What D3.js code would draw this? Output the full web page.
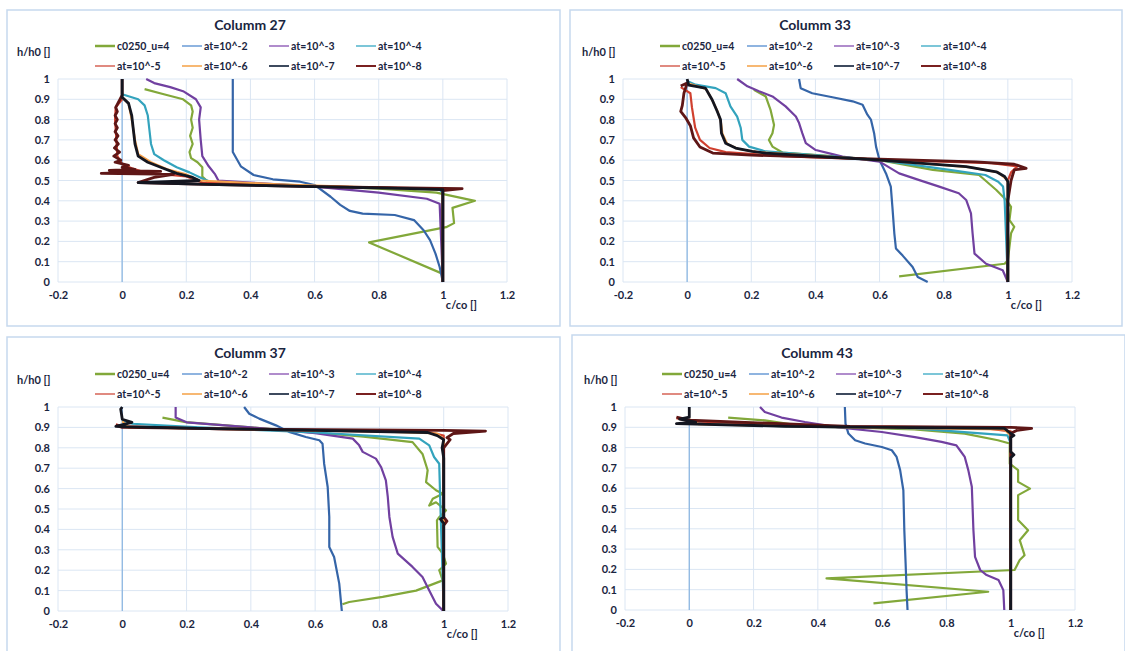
<!DOCTYPE html>
<meta charset="utf-8">
<style>
  body { margin: 0; background: #fff; }
  text { font-family: Lato, "Open Sans", sans-serif; fill: #1a2540; }
  .tick text { font-size: 11px; font-weight: bold; }
  .title { font-size: 14px; font-weight: bold; }
  .leg { font-size: 10.5px; font-weight: bold; }
  .lab { font-size: 11px; font-weight: bold; }
</style>
<body>
<script src="https://d3js.org/d3.v7.min.js"></script>
<script>
// series names and colours
var seriesNames = ["c0250_u=4", "at=10^-2", "at=10^-3", "at=10^-4", "at=10^-5", "at=10^-6", "at=10^-7", "at=10^-8"];
var seriesColors = ["#82a83a", "#3565a8", "#7140a0", "#33a3bd", "#d0402f", "#f5a04a", "#141620", "#5e1616"];
var legendColors = ["#82a83a", "#8fb4e0", "#b08ccc", "#7cc6d8", "#e08a80", "#f7b873", "#3d4a5e", "#7a2020"];

var xTicks = [-0.2, 0, 0.2, 0.4, 0.6, 0.8, 1, 1.2];
var xTickLabels = ["-0.2", "0", "0.2", "0.4", "0.6", "0.8", "1", "1.2"];
var yTicks = [0, 0.1, 0.2, 0.3, 0.4, 0.5, 0.6, 0.7, 0.8, 0.9, 1];
var yTickLabels = ["0", "0.1", "0.2", "0.3", "0.4", "0.5", "0.6", "0.7", "0.8", "0.9", "1"];

var titles = ["Columm 27", "Columm 33", "Columm 37", "Columm 43"];

// points are [c/c0, h/h0]
// Column 27
var c27_u4 = [[0.07,0.95],[0.13,0.925],[0.19,0.9],[0.215,0.87],[0.22,0.84],[0.215,0.8],[0.22,0.76],[0.212,0.72],[0.22,0.68],[0.21,0.64],[0.215,0.61],[0.235,0.59],[0.25,0.565],[0.25,0.52],[0.27,0.49],[0.5,0.48],[0.8,0.46],[0.98,0.44],[1.1,0.4],[1.03,0.365],[1.035,0.29],[1.01,0.27],[0.77,0.195],[1.0,0.04]];
var c27_a2 = [[0.345,1.0],[0.345,0.64],[0.37,0.57],[0.41,0.527],[0.47,0.506],[0.555,0.494],[0.6,0.478],[0.65,0.42],[0.68,0.38],[0.71,0.35],[0.75,0.337],[0.85,0.33],[0.91,0.305],[0.94,0.255],[0.96,0.206],[0.977,0.14],[0.99,0.074],[1.0,0.0]];
var c27_a3 = [[0.075,1.0],[0.1,0.98],[0.15,0.96],[0.19,0.94],[0.23,0.9],[0.245,0.86],[0.24,0.8],[0.245,0.7],[0.25,0.62],[0.27,0.57],[0.29,0.53],[0.3,0.5],[0.4,0.49],[0.6,0.47],[0.8,0.44],[0.95,0.41],[0.99,0.385],[1.0,0.0]];
var c27_a4 = [[0.0,0.925],[0.05,0.9],[0.07,0.87],[0.08,0.82],[0.085,0.75],[0.09,0.68],[0.1,0.63],[0.13,0.6],[0.17,0.565],[0.21,0.54],[0.25,0.51],[0.28,0.49],[0.5,0.475],[0.8,0.465],[0.99,0.455],[1.0,0.44],[1.0,0.0]];
var c27_a5 = [[0.0,0.9],[-0.02,0.86],[-0.022,0.8],[-0.018,0.7],[-0.015,0.62],[0.0,0.58],[0.03,0.56],[0.06,0.545],[0.1,0.535],[0.2,0.52],[0.25,0.49],[0.5,0.475],[0.8,0.465],[1.0,0.46],[1.0,0.0]];
var c27_a6 = [[0.0,0.91],[0.02,0.88],[0.03,0.8],[0.04,0.7],[0.05,0.63],[0.09,0.59],[0.14,0.555],[0.2,0.53],[0.24,0.5],[0.5,0.48],[0.8,0.465],[1.0,0.455],[1.0,0.0]];
var c27_a7 = [[0.0,1.0],[0.0,0.91],[0.02,0.88],[0.03,0.82],[0.035,0.75],[0.04,0.68],[0.05,0.62],[0.08,0.59],[0.12,0.565],[0.17,0.535],[0.22,0.515],[0.24,0.5],[0.05,0.49],[0.3,0.48],[0.6,0.47],[0.9,0.46],[1.0,0.455],[1.0,0.0]];
var c27_a8 = [[0.0,1.0],[0.0,0.92],[-0.02,0.86],[-0.015,0.84],[-0.022,0.82],[-0.015,0.8],[-0.022,0.78],[-0.015,0.76],[-0.022,0.74],[-0.013,0.72],[-0.022,0.7],[-0.012,0.68],[-0.024,0.66],[-0.008,0.64],[-0.026,0.62],[-0.004,0.6],[-0.022,0.59],[0.02,0.575],[0.0,0.565],[0.04,0.555],[-0.04,0.55],[0.12,0.545],[-0.065,0.535],[0.16,0.53],[0.1,0.515],[0.05,0.49],[0.3,0.48],[0.6,0.47],[1.06,0.46],[1.0,0.45],[1.0,0.0]];

// Column 33
var c33_u4 = [[0.208,0.947],[0.245,0.914],[0.26,0.848],[0.271,0.774],[0.266,0.733],[0.255,0.7],[0.266,0.667],[0.297,0.638],[0.45,0.62],[0.6,0.6],[0.766,0.552],[0.91,0.527],[0.93,0.5],[0.964,0.453],[0.995,0.404],[1.01,0.37],[1.005,0.305],[1.02,0.272],[1.01,0.24],[1.0,0.107],[0.99,0.09],[0.661,0.028]];
var c33_a2 = [[0.349,1.0],[0.354,0.955],[0.39,0.93],[0.453,0.91],[0.516,0.89],[0.547,0.873],[0.562,0.824],[0.573,0.8],[0.583,0.733],[0.589,0.667],[0.6,0.6],[0.62,0.535],[0.635,0.47],[0.64,0.37],[0.646,0.24],[0.651,0.165],[0.672,0.13],[0.703,0.074],[0.719,0.025],[0.75,0.0]];
var c33_a3 = [[0.156,1.0],[0.188,0.964],[0.224,0.94],[0.266,0.914],[0.307,0.865],[0.339,0.815],[0.349,0.783],[0.359,0.733],[0.37,0.684],[0.401,0.65],[0.453,0.63],[0.484,0.618],[0.6,0.593],[0.661,0.535],[0.724,0.502],[0.786,0.47],[0.847,0.437],[0.87,0.404],[0.885,0.338],[0.89,0.24],[0.896,0.14],[0.932,0.09],[0.984,0.058],[1.0,0.0]];
var c33_a4 = [[0.0,0.99],[0.026,0.972],[0.089,0.955],[0.12,0.93],[0.135,0.865],[0.156,0.815],[0.167,0.76],[0.172,0.7],[0.193,0.667],[0.245,0.643],[0.6,0.6],[0.818,0.552],[0.93,0.527],[0.97,0.494],[0.985,0.47],[0.99,0.4],[1.0,0.0]];
var c33_a5 = [[-0.02,0.96],[0.01,0.93],[0.015,0.86],[0.025,0.76],[0.04,0.7],[0.07,0.66],[0.12,0.64],[0.3,0.62],[0.6,0.603],[0.95,0.585],[1.03,0.57],[1.01,0.54],[1.0,0.5],[1.0,0.0]];
var c33_a6 = [[0.0,0.98],[0.06,0.95],[0.08,0.89],[0.095,0.84],[0.105,0.79],[0.11,0.73],[0.125,0.68],[0.16,0.655],[0.22,0.64],[0.6,0.6],[0.88,0.566],[0.97,0.54],[1.0,0.5],[1.0,0.0]];
var c33_a7 = [[0.0,1.0],[0.005,0.97],[0.057,0.955],[0.078,0.898],[0.094,0.84],[0.104,0.8],[0.107,0.733],[0.12,0.684],[0.151,0.66],[0.203,0.643],[0.245,0.635],[0.6,0.6],[0.87,0.568],[0.964,0.543],[0.99,0.52],[1.0,0.495],[1.0,0.0]];
var c33_a8 = [[-0.02,0.965],[0.0,0.98],[-0.01,0.93],[-0.015,0.87],[-0.02,0.84],[-0.005,0.81],[0.01,0.77],[0.02,0.71],[0.04,0.665],[0.08,0.635],[0.2,0.625],[0.6,0.605],[0.9,0.592],[1.02,0.58],[1.057,0.56],[1.02,0.552],[1.01,0.5],[1.0,0.4],[1.0,0.0]];

// Column 37
var c37_u4 = [[0.125,0.948],[0.197,0.926],[0.4,0.9],[0.6,0.875],[0.75,0.855],[0.903,0.828],[0.934,0.77],[0.95,0.69],[0.945,0.632],[0.976,0.592],[0.997,0.575],[0.966,0.55],[0.955,0.517],[0.976,0.533],[1.007,0.493],[0.986,0.46],[0.979,0.444],[0.981,0.314],[0.997,0.281],[1.007,0.232],[0.986,0.2],[0.997,0.15],[0.914,0.1],[0.81,0.069],[0.706,0.044],[0.685,0.033]];
var c37_a2 = [[0.379,1.0],[0.395,0.967],[0.426,0.943],[0.478,0.91],[0.519,0.878],[0.571,0.853],[0.613,0.837],[0.623,0.82],[0.628,0.722],[0.639,0.608],[0.644,0.461],[0.644,0.314],[0.659,0.265],[0.675,0.134],[0.683,0.0]];
var c37_a3 = [[0.166,1.0],[0.166,0.948],[0.2,0.925],[0.4,0.9],[0.6,0.872],[0.717,0.845],[0.737,0.812],[0.748,0.78],[0.789,0.747],[0.805,0.706],[0.82,0.64],[0.826,0.559],[0.831,0.461],[0.841,0.363],[0.857,0.281],[0.903,0.216],[0.934,0.167],[0.955,0.101],[0.976,0.036],[0.997,0.003]];
var c37_a4 = [[0.0,0.935],[0.031,0.918],[0.24,0.9],[0.6,0.875],[0.924,0.845],[0.955,0.812],[0.97,0.755],[0.986,0.722],[0.99,0.5],[1.0,0.0]];
var c37_a5 = [[-0.02,0.915],[0.0,0.905],[0.3,0.892],[0.7,0.882],[0.95,0.878],[1.0,0.86],[1.0,0.0]];
var c37_a6 = [[0.0,0.93],[0.02,0.9],[0.4,0.89],[0.8,0.88],[0.98,0.87],[1.0,0.84],[1.0,0.0]];
var c37_a7 = [[0.0,1.0],[-0.005,0.99],[0.0,0.94],[0.03,0.925],[-0.02,0.905],[0.3,0.893],[0.6,0.885],[0.95,0.875],[0.98,0.86],[1.0,0.84],[0.995,0.8],[1.0,0.75],[1.0,0.46],[0.99,0.45],[1.0,0.43],[1.0,0.0]];
var c37_a8 = [[-0.02,0.91],[0.0,0.9],[0.5,0.89],[1.0,0.885],[1.13,0.882],[1.03,0.87],[1.01,0.85],[1.02,0.84],[1.0,0.8],[1.0,0.46],[1.01,0.44],[1.0,0.42],[1.0,0.0]];

// Column 43
var c43_u4 = [[0.121,0.948],[0.235,0.934],[0.339,0.91],[0.5,0.9],[0.7,0.89],[0.857,0.869],[0.96,0.836],[0.997,0.82],[0.997,0.721],[1.023,0.689],[1.023,0.631],[1.06,0.598],[1.023,0.566],[1.023,0.443],[1.054,0.393],[1.028,0.344],[1.043,0.27],[1.028,0.246],[1.012,0.197],[0.427,0.156],[0.93,0.09],[0.573,0.033]];
var c43_a2 = [[0.484,1.0],[0.486,0.918],[0.495,0.869],[0.516,0.836],[0.547,0.82],[0.599,0.803],[0.63,0.787],[0.645,0.754],[0.656,0.689],[0.666,0.59],[0.669,0.393],[0.673,0.23],[0.676,0.098],[0.679,0.0]];
var c43_a3 = [[0.22,1.0],[0.235,0.975],[0.287,0.948],[0.36,0.926],[0.464,0.9],[0.599,0.877],[0.702,0.852],[0.785,0.828],[0.831,0.811],[0.842,0.787],[0.857,0.754],[0.868,0.689],[0.879,0.607],[0.884,0.393],[0.889,0.262],[0.905,0.197],[0.925,0.172],[0.962,0.148],[0.977,0.098],[0.98,0.0]];
var c43_a4 = [[0.0,0.935],[0.049,0.918],[0.3,0.905],[0.7,0.895],[0.99,0.86],[1.0,0.82],[1.0,0.0]];
var c43_a5 = [[-0.04,0.945],[0.0,0.93],[0.4,0.905],[0.9,0.9],[1.0,0.88],[1.0,0.0]];
var c43_a6 = [[0.0,0.94],[0.03,0.915],[0.5,0.9],[0.98,0.89],[1.0,0.86],[1.0,0.0]];
var c43_a7 = [[0.0,1.0],[0.0,0.95],[-0.03,0.94],[0.02,0.925],[-0.04,0.918],[0.3,0.905],[0.6,0.9],[0.98,0.895],[1.0,0.87],[1.01,0.86],[1.0,0.85],[1.0,0.78],[1.01,0.765],[1.0,0.75],[1.0,0.0]];
var c43_a8 = [[-0.04,0.95],[0.0,0.935],[0.5,0.905],[1.0,0.9],[1.065,0.895],[1.02,0.885],[1.0,0.87],[1.0,0.0]];

// panel layout: outer box and plot area in page pixels
var panels = [
  {title: titles[0], box: [7, 10, 553, 316], plot: [58, 79, 507, 282], ox: 0, oy: 0,
   series: [c27_u4, c27_a2, c27_a3, c27_a4, c27_a5, c27_a6, c27_a7, c27_a8]},
  {title: titles[1], box: [570, 10, 552, 316], plot: [623, 79, 1072, 282], ox: 565, oy: 0,
   series: [c33_u4, c33_a2, c33_a3, c33_a4, c33_a5, c33_a6, c33_a7, c33_a8]},
  {title: titles[2], box: [7, 337, 553, 320], plot: [58, 407, 508, 611], ox: 0, oy: 328,
   series: [c37_u4, c37_a2, c37_a3, c37_a4, c37_a5, c37_a6, c37_a7, c37_a8]},
  {title: titles[3], box: [572, 335, 553, 320], plot: [625, 407, 1075, 610], ox: 567, oy: 328,
   series: [c43_u4, c43_a2, c43_a3, c43_a4, c43_a5, c43_a6, c43_a7, c43_a8]}
];

// the near-black at=10^-7 curve sits on top in the original
var drawOrder = [0, 1, 2, 3, 4, 5, 7, 6];

var svg = d3.select("body").append("svg")
    .attr("width", 1125)
    .attr("height", 651);

panels.forEach(function(p) {
  var g = svg.append("g");
  var x = d3.scaleLinear().domain([-0.2, 1.2]).range([p.plot[0], p.plot[2]]);
  var y = d3.scaleLinear().domain([0, 1]).range([p.plot[3], p.plot[1]]);

  // chart border
  g.append("rect")
    .attr("x", p.box[0]).attr("y", p.box[1])
    .attr("width", p.box[2]).attr("height", p.box[3])
    .attr("fill", "none").attr("stroke", "#c6d9ee").attr("stroke-width", 1.5);

  // grid
  g.selectAll(".vg").data(xTicks).enter().append("line")
    .attr("x1", function(d) { return x(d); }).attr("x2", function(d) { return x(d); })
    .attr("y1", y(0)).attr("y2", y(1))
    .attr("stroke", "#dbe6f3").attr("stroke-width", 1);
  g.selectAll(".hg").data(yTicks).enter().append("line")
    .attr("x1", x(-0.2)).attr("x2", x(1.2))
    .attr("y1", function(d) { return y(d); }).attr("y2", function(d) { return y(d); })
    .attr("stroke", "#dbe6f3").attr("stroke-width", 1);

  // vertical axis crosses at c = 0
  g.append("line")
    .attr("x1", x(0)).attr("x2", x(0)).attr("y1", y(0)).attr("y2", y(1))
    .attr("stroke", "#8fb8e2").attr("stroke-width", 1.3);

  // tick labels
  var xa = g.append("g")
    .attr("transform", "translate(0," + y(0) + ")")
    .call(d3.axisBottom(x).tickValues(xTicks).tickSize(0).tickPadding(9)
      .tickFormat(function(d, i) { return xTickLabels[i]; }));
  xa.select(".domain").remove();
  var ya = g.append("g")
    .attr("transform", "translate(" + x(-0.2) + ",0)")
    .call(d3.axisLeft(y).tickValues(yTicks).tickSize(0).tickPadding(8)
      .tickFormat(function(d, i) { return yTickLabels[i]; }));
  ya.select(".domain").remove();
  g.selectAll(".tick text").attr("fill", "#1a2540").style("font-family", "Lato, sans-serif");

  // curves
  var line = d3.line()
    .x(function(d) { return x(d[0]); })
    .y(function(d) { return y(d[1]); });
  drawOrder.forEach(function(i) {
    g.append("path")
      .datum(p.series[i])
      .attr("d", line)
      .attr("fill", "none")
      .attr("stroke", seriesColors[i])
      .attr("stroke-width", i >= 6 ? 2.8 : 2.2)
      .attr("stroke-linejoin", "round");
  });

  // title and axis labels
  g.append("text").attr("class", "title")
    .attr("x", p.ox + 250).attr("y", p.oy + 30)
    .attr("text-anchor", "middle").text(p.title);
  g.append("text").attr("class", "lab")
    .attr("x", p.ox + 17).attr("y", p.oy + 56).text("h/h0 []");
  g.append("text").attr("class", "lab")
    .attr("x", x(1) + 3).attr("y", y(0) + 27).text("c/co []");

  // legend, 2 rows of 4
  seriesNames.forEach(function(name, i) {
    var lx = p.ox + 95 + (i % 4) * 87;
    var ly = p.oy + 46 + Math.floor(i / 4) * 20;
    g.append("line")
      .attr("x1", lx).attr("x2", lx + 20).attr("y1", ly).attr("y2", ly)
      .attr("stroke", legendColors[i]).attr("stroke-width", i === 0 ? 2.5 : 2);
    g.append("text").attr("class", "leg")
      .attr("x", lx + 22).attr("y", ly + 3.5).text(name);
  });
});
</script>
</body>
